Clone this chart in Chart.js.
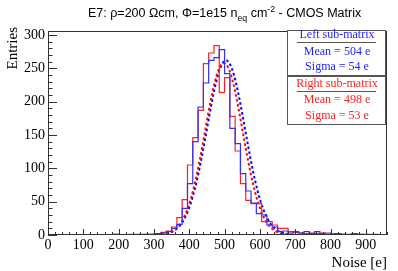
<!DOCTYPE html>
<html>
<head>
<meta charset="utf-8">
<script src="https://cdn.jsdelivr.net/npm/chart.js@4/dist/chart.umd.min.js"></script>
<style>
  html, body { margin: 0; padding: 0; background: #fff; }
  #wrap { width: 398px; height: 271px; position: relative; }
</style>
</head>
<body>
<div id="wrap"><canvas id="c"></canvas></div>
<script>
// histogram binning (lower edge of first bin, bin width)
const binFirstEdge = -10;
const binWidth = 15;

// entries per bin, left sub-matrix (blue)
const leftCounts = [
  0, 0, 0, 0, 0, 0, 0, 0, 0, 0, 0, 0, 0, 0, 1, 0, 0, 0, 0, 1,
  1, 1, 2, 3, 5, 10, 16, 40, 77, 140, 192, 228, 262, 266, 278, 242, 160, 137, 92, 66,
  48, 32, 30, 15, 12, 5, 6, 3, 5, 3, 5, 2, 5, 2, 3, 1, 2, 1, 1, 2,
  1, 1, 0, 1, 0, 0
];

// entries per bin, right sub-matrix (red)
const rightCounts = [
  0, 0, 0, 0, 0, 0, 0, 0, 0, 0, 0, 0, 0, 0, 1, 0, 0, 1, 1, 0,
  1, 1, 2, 4, 6, 12, 26, 53, 105, 146, 187, 257, 273, 284, 214, 236, 178, 126, 77, 52,
  47, 47, 20, 20, 15, 10, 10, 5, 4, 3, 2, 3, 2, 3, 1, 2, 1, 1, 0, 1,
  1, 0, 1, 0, 0, 0
];

// gaussian fit results
const leftFit = { mean: 504, sigma: 54, amp: 262 };
const rightFit = { mean: 498, sigma: 53, amp: 258 };
const fitRange = [250, 760];

const xTicks = [0, 100, 200, 300, 400, 500, 600, 700, 800, 900];
const yTicks = [0, 50, 100, 150, 200, 250, 300];

const legendLines = [
  { text: 'Left sub-matrix', color: '#1f1fff', header: true },
  { text: 'Mean = 504 e', color: '#1f1fff' },
  { text: 'Sigma = 54 e', color: '#1f1fff' },
  { text: 'Right sub-matrix', color: '#ff1f1f', header: true },
  { text: 'Mean = 498 e', color: '#ff1f1f' },
  { text: 'Sigma = 53 e', color: '#ff1f1f' }
];

function histPoints(counts) {
  let pts = counts.map((v, i) => ({ x: binFirstEdge + i * binWidth, y: v }));
  pts.push({ x: binFirstEdge + counts.length * binWidth, y: counts[counts.length - 1] });
  return pts;
}

function fitPoints(f) {
  let pts = [];
  for (let x = fitRange[0]; x <= fitRange[1]; x += 4) {
    pts.push({ x: x, y: f.amp * Math.exp(-0.5 * Math.pow((x - f.mean) / f.sigma, 2)) });
  }
  return pts;
}

const serif = '"Liberation Serif", "Times New Roman", serif';
const sans = '"Liberation Sans", Arial, sans-serif';

const rootDecor = {
  id: 'rootDecor',
  afterDraw(chart) {
    const ctx = chart.ctx;
    const a = chart.chartArea;
    const xs = chart.scales.x, ys = chart.scales.y;
    ctx.save();

    // frame
    ctx.strokeStyle = '#333';
    ctx.lineWidth = 1;
    ctx.strokeRect(a.left + 0.5, a.top + 0.5, a.right - a.left - 1, a.bottom - a.top - 1);

    // inner ticks y
    ctx.beginPath();
    for (let v = 0; v <= ys.max; v += 10) {
      const y = Math.round(ys.getPixelForValue(v)) + 0.5;
      const len = v % 50 === 0 ? 9 : 4.5;
      ctx.moveTo(a.left, y);
      ctx.lineTo(a.left + len, y);
    }
    // inner ticks x
    for (let v = 0; v <= xs.max; v += 20) {
      const x = Math.round(xs.getPixelForValue(v)) + 0.5;
      const len = v % 100 === 0 ? 6 : 3;
      ctx.moveTo(x, a.bottom);
      ctx.lineTo(x, a.bottom - len);
    }
    ctx.stroke();

    // title with sub/superscript
    const size = 12.5;
    const parts = [
      { t: 'E7: \u03c1=200 \u03a9cm, \u03a6=1e15 n', s: 1, dy: 0 },
      { t: 'eq', s: 0.7, dy: 0.3 },
      { t: ' cm', s: 1, dy: 0 },
      { t: '-2', s: 0.7, dy: -0.4 },
      { t: ' - CMOS Matrix', s: 1, dy: 0 }
    ];
    ctx.fillStyle = '#000';
    ctx.textBaseline = 'alphabetic';
    ctx.textAlign = 'left';
    let x = 88;
    parts.forEach(p => {
      ctx.font = (size * p.s) + 'px ' + sans;
      ctx.fillText(p.t, x, 17 + p.dy * size);
      x += ctx.measureText(p.t).width;
    });

    // axis titles
    ctx.font = '15px ' + serif;
    ctx.textAlign = 'right';
    ctx.textBaseline = 'alphabetic';
    ctx.fillText('Noise [e]', a.right, 267);
    ctx.save();
    ctx.translate(17, a.top - 4);
    ctx.rotate(-Math.PI / 2);
    ctx.fillText('Entries', 0, 0);
    ctx.restore();

    // stats box
    const bx = 287, by = 30, bw = 98, bh = 94;
    ctx.fillStyle = '#fff';
    ctx.fillRect(bx, by, bw, bh);
    ctx.strokeStyle = '#555';
    ctx.lineWidth = 1;
    ctx.strokeRect(bx + 0.5, by + 0.5, bw, bh);
    ctx.lineWidth = 2;
    ctx.beginPath();
    ctx.moveTo(bx, 76);
    ctx.lineTo(bx + bw, 76);
    ctx.stroke();
    ctx.lineWidth = 1;
    ctx.beginPath();
    ctx.moveTo(297, 42.5); ctx.lineTo(376, 42.5);
    ctx.moveTo(297, 91.5); ctx.lineTo(376, 91.5);
    ctx.stroke();
    const rowsY = [35, 51.7, 67.3, 84.3, 100, 115.7];
    ctx.font = '12px ' + serif;
    ctx.textAlign = 'center';
    ctx.textBaseline = 'middle';
    legendLines.forEach((l, i) => {
      ctx.fillStyle = l.color;
      ctx.fillText(l.text, bx + bw / 2 + 1, rowsY[i]);
    });
    ctx.restore();
  }
};

new Chart(document.getElementById('c'), {
  type: 'line',
  data: {
    datasets: [
      { data: histPoints(leftCounts), borderColor: '#3030ff', borderWidth: 1.2, stepped: 'after', pointRadius: 0, fill: false },
      { data: histPoints(rightCounts), borderColor: '#ff2020', borderWidth: 1.2, stepped: 'after', pointRadius: 0, fill: false },
      { data: fitPoints(rightFit), borderColor: '#ff0000', borderWidth: 2, borderDash: [2.5, 2.5], pointRadius: 0, tension: 0, fill: false },
      { data: fitPoints(leftFit), borderColor: '#0000ff', borderWidth: 2, borderDash: [2.5, 2.5], pointRadius: 0, tension: 0, fill: false }
    ]
  },
  options: {
    responsive: true,
    maintainAspectRatio: false,
    animation: false,
    layout: { padding: { top: 31, right: 11, left: 0, bottom: 0 } },
    plugins: { legend: { display: false }, tooltip: { enabled: false }, title: { display: false } },
    scales: {
      x: {
        type: 'linear', min: 0, max: 960,
        grid: { display: false, drawTicks: false },
        border: { display: false },
        ticks: { stepSize: 100, padding: 2, color: '#000', maxRotation: 0, font: { family: serif, size: 14 } },
        afterBuildTicks(s) { s.ticks = xTicks.map(v => ({ value: v })); },
        afterFit(s) { s.height = 36; }
      },
      y: {
        min: 0, max: 306,
        grid: { display: false, drawTicks: false },
        border: { display: false },
        ticks: { stepSize: 50, padding: 3, color: '#000', font: { family: serif, size: 14 } },
        afterBuildTicks(s) { s.ticks = yTicks.map(v => ({ value: v })); },
        afterFit(s) { s.width = 48; }
      }
    }
  },
  plugins: [rootDecor]
});
</script>
</body>
</html>
